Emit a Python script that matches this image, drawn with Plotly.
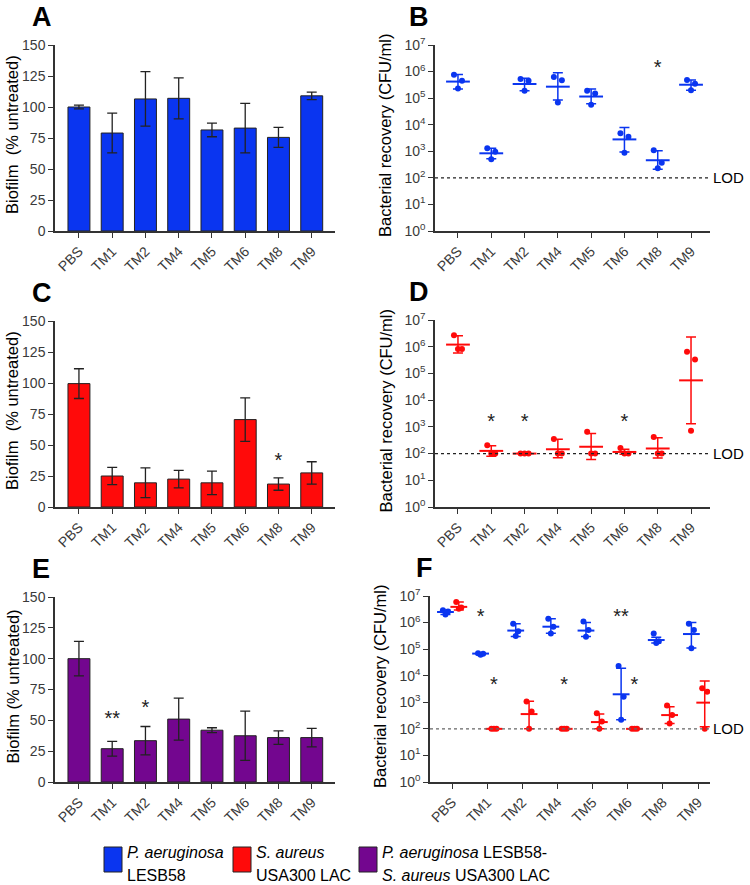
import plotly.graph_objects as go

W, H = 750, 885

groups = ['PBS', 'TM1', 'TM2', 'TM4', 'TM5', 'TM6', 'TM8', 'TM9']

# biofilm bars (% untreated): mean and SD
a_mean = [100, 79, 106.5, 107, 81.5, 83, 75.5, 109]
a_sd = [1.5, 16, 22, 16.5, 5.5, 20, 8, 3]
c_mean = [99.5, 25, 19.5, 22.5, 19.5, 70.5, 18.5, 27.5]
c_sd = [12, 7, 12, 7, 9.5, 17.5, 5, 9]
e_mean = [100, 27, 33.5, 51, 42, 37.5, 36, 36]
e_sd = [14, 6, 11.5, 17, 2, 20, 5.5, 7.5]

# bacterial recovery (CFU/ml): replicate points, geometric mean, low/high of error bar
b_pts = [[7.6e5, 4.5e5, 2.3e5], [1.3e3, 9.7e2, 5.0e2], [5.3e5, 4.5e5, 1.9e5], [6.3e5, 4.7e5, 6.9e4],
         [1.9e5, 1.5e5, 5.7e4], [4.8e3, 3.5e3, 8.9e2], [1.1e3, 3.7e2, 2.3e2], [4.8e5, 3.5e5, 2.0e5]]
b_mean = [4.2e5, 8.4e2, 3.4e5, 2.7e5, 1.15e5, 2.8e3, 4.6e2, 3.2e5]
b_lo = [2.2e5, 5.2e2, 1.9e5, 8.5e4, 6.2e4, 9.5e2, 2.1e2, 2.0e5]
b_hi = [7.8e5, 1.3e3, 5.6e5, 9.1e5, 2.2e5, 7.8e3, 1.05e3, 4.8e5]

d_pts = [[2.7e6, 8.2e5, 8.2e5], [2.05e2, 100, 100], [100, 100, 100], [3.5e2, 100, 100],
         [6.5e2, 100, 100], [1.6e2, 100, 100], [4.2e2, 100, 100], [6.5e5, 3.3e5, 7.2e2]]
d_mean = [1.2e6, 1.26e2, 100, 1.45e2, 1.8e2, 1.15e2, 1.55e2, 5.5e4]
d_lo = [5.8e5, 80, 100, 70, 60, 95, 68, 1.3e3]
d_hi = [2.6e6, 1.95e2, 100, 3.4e2, 5.6e2, 1.45e2, 3.9e2, 2.3e6]

f_pa_pts = [[2.9e6, 2.6e6, 2.0e6], [7.0e4, 6.7e4, 6.2e4], [9.1e5, 4.7e5, 3.1e5], [1.4e6, 6.9e5, 3.9e5],
            [1.1e6, 5.2e5, 2.9e5], [2.3e4, 1.6e3, 2.2e2], [3.9e5, 2.0e5, 1.7e5], [9.1e5, 5.2e5, 1.07e5]]
f_pa_mean = [2.5e6, 6.8e4, 5.0e5, 7.0e5, 5.0e5, 2.0e3, 2.2e5, 3.7e5]
f_pa_lo = [2.0e6, 6.3e4, 3.0e5, 4.0e5, 3.0e5, 2.2e2, 1.7e5, 1.1e5]
f_pa_hi = [3.0e6, 7.2e4, 9.0e5, 1.4e6, 1.0e6, 1.9e4, 2.8e5, 1.0e6]

f_sa_pts = [[6.0e6, 3.7e6, 3.3e6], [100, 100, 100], [1.07e3, 4.5e2, 100], [100, 100, 100],
            [3.9e2, 1.9e2, 100], [100, 100, 100], [7.5e2, 3.3e2, 1.6e2], [3.4e3, 2.5e3, 100]]
f_sa_mean = [3.9e6, 100, 3.6e2, 100, 1.8e2, 100, 3.3e2, 9.7e2]
f_sa_lo = [3.0e6, 100, 100, 100, 100, 100, 1.6e2, 1.2e2]
f_sa_hi = [6.0e6, 100, 1.1e3, 100, 3.6e2, 100, 6.8e2, 6.3e3]

LOD = 100

# significance marks: (group index, offset, value, text)
c_stars = [(6, 0, 36, '*')]
e_stars = [(1, 0, 50, '**'), (2, 0, 59, '*')]
b_stars = [(6, 0, 1.3e6, '*')]
d_stars = [(1, 0, 1.4e3, '*'), (2, 0, 1.4e3, '*'), (5, 0, 1.4e3, '*')]
f_stars = [(1, -0.19, 1.5e6, '*'), (5, -0.19, 1.5e6, '**'),
           (1, 0.19, 4.0e3, '*'), (3, 0.19, 4.0e3, '*'), (5, 0.19, 4.0e3, '*')]

BLUE = '#0a35f0'
RED = '#ff0a0a'
PURPLE = '#73068f'
AXC = '#333333'
FONT = 'Liberation Sans, Arial, sans-serif'

jitter = [-0.12, 0.12, 0.0]


def px(x):
    return x / W


def py(y):
    return 1 - y / H


fig = go.Figure()


def bars(n, mean, sd, color):
    fig.add_trace(go.Bar(
        x=list(range(len(groups))), y=mean, width=0.66,
        marker=dict(color=color, line=dict(color='#222', width=1)),
        error_y=dict(type='data', array=sd, color='#222', thickness=1.3, width=5),
        xaxis='x%d' % n, yaxis='y%d' % n, showlegend=False))


def dots(n, pts, mean, lo, hi, color, offset=0.0, msize=17):
    xs, ys = [], []
    for i, vals in enumerate(pts):
        for j, v in enumerate(vals):
            xs.append(i + offset + jitter[j] * (0.6 if offset else 1))
            ys.append(v)
    fig.add_trace(go.Scatter(x=xs, y=ys, mode='markers',
                             marker=dict(color=color, size=6),
                             xaxis='x%d' % n, yaxis='y%d' % n, showlegend=False))
    fig.add_trace(go.Scatter(
        x=[i + offset for i in range(len(mean))], y=mean, mode='markers',
        marker=dict(symbol='line-ew', size=msize, line=dict(color=color, width=2)),
        error_y=dict(type='data', symmetric=False,
                     array=[h - m for h, m in zip(hi, mean)],
                     arrayminus=[m - l for m, l in zip(mean, lo)],
                     color=color, thickness=1.5, width=5),
        xaxis='x%d' % n, yaxis='y%d' % n, showlegend=False))


def stars(n, marks):
    fig.add_trace(go.Scatter(
        x=[g + o for g, o, v, t in marks], y=[v for g, o, v, t in marks],
        text=[t for g, o, v, t in marks], mode='text',
        textfont=dict(size=20, color='#222', family=FONT),
        xaxis='x%d' % n, yaxis='y%d' % n, showlegend=False, cliponaxis=False))


bars(1, a_mean, a_sd, BLUE)
dots(2, b_pts, b_mean, b_lo, b_hi, BLUE)
stars(2, b_stars)
bars(3, c_mean, c_sd, RED)
stars(3, c_stars)
dots(4, d_pts, d_mean, d_lo, d_hi, RED)
stars(4, d_stars)
bars(5, e_mean, e_sd, PURPLE)
stars(5, e_stars)
dots(6, f_pa_pts, f_pa_mean, f_pa_lo, f_pa_hi, BLUE, offset=-0.19, msize=12)
dots(6, f_sa_pts, f_sa_mean, f_sa_lo, f_sa_hi, RED, offset=0.19, msize=12)
stars(6, f_stars)

# panel geometry in pixels: x0, x1, ytop, ybottom, x range
panels = {
    1: (55, 335, 45, 231, [-0.72, 7.7]),
    2: (435, 710, 45, 231, [-0.69, 7.57]),
    3: (55, 335, 321, 507, [-0.72, 7.7]),
    4: (435, 710, 320, 507, [-0.69, 7.57]),
    5: (55, 335, 597, 782, [-0.72, 7.7]),
    6: (430, 710, 596, 782, [-0.63, 7.34]),
}

tickfont = dict(family=FONT, size=14, color='#3a3a3a')
layout = {}
for n, (x0, x1, yt, yb, xr) in panels.items():
    sfx = '' if n == 1 else str(n)
    layout['xaxis' + sfx] = dict(
        domain=[px(x0), px(x1)], range=xr, anchor='y' + sfx, automargin=False,
        tickvals=list(range(len(groups))), ticktext=groups, tickangle=-45,
        ticks='outside', ticklen=5, tickwidth=1.3, tickcolor=AXC,
        showline=True, linecolor=AXC, linewidth=1.5, showgrid=False, zeroline=False,
        tickfont=tickfont)
    ax = dict(domain=[py(yb), py(yt)], anchor='x' + sfx, automargin=False,
              ticks='outside', ticklen=5, tickwidth=1.3, tickcolor=AXC,
              showline=True, linecolor=AXC, linewidth=1.5, showgrid=False, zeroline=False,
              tickfont=tickfont)
    if n % 2 == 1:
        ax.update(range=[0, 150], tickvals=[0, 25, 50, 75, 100, 125, 150])
    else:
        ax.update(type='log', range=[0, 7],
                  tickvals=[10 ** k for k in range(8)],
                  ticktext=['10<sup>%d</sup>' % k for k in range(8)])
    layout['yaxis' + sfx] = ax

fig.update_layout(**layout)

ann = []
shapes = []
letters = {1: ('A', 30), 2: ('B', 407), 3: ('C', 30), 4: ('D', 407), 5: ('E', 30), 6: ('F', 414)}
for n, (x0, x1, yt, yb, xr) in panels.items():
    sfx = '' if n == 1 else str(n)
    let, lx = letters[n]
    ann.append(dict(text='<b>%s</b>' % let, x=px(lx), y=py(yt - 28), xref='paper', yref='paper',
                    xanchor='left', yanchor='middle', showarrow=False,
                    font=dict(family=FONT, size=27, color='black')))
    if n % 2 == 1:
        title = 'Biofilm  (% untreated)' if n < 5 else 'Biofilm (% untreated)'
        tx = 12
    else:
        title = 'Bacterial recovery (CFU/ml)'
        tx = x0 - 50
    ann.append(dict(text=title, x=px(tx), y=py((yt + yb) / 2 - 3), xref='paper', yref='paper',
                    textangle=-90, xanchor='center', yanchor='middle', showarrow=False,
                    font=dict(family=FONT, size=16.5, color='black')))
    if n % 2 == 0:
        shapes.append(dict(type='line', xref='x%s domain' % sfx, yref='y' + sfx,
                           x0=0, x1=1, y0=LOD, y1=LOD,
                           line=dict(color='#222' if n < 6 else '#666', width=1.3, dash='dot')))
        ann.append(dict(text='LOD', x=px(746), y=2, xref='paper', yref='y' + sfx,
                        xanchor='right', yanchor='middle', showarrow=False,
                        font=dict(family=FONT, size=15, color='black')))

# legend at bottom
legend_items = [
    (104, BLUE, '<i>P. aeruginosa</i>', 'LESB58'),
    (233, RED, '<i>S. aureus</i>', 'USA300 LAC'),
    (359, PURPLE, '<i>P. aeruginosa</i> LESB58-', '<i>S. aureus</i> USA300 LAC'),
]
for lx, col, l1, l2 in legend_items:
    shapes.append(dict(type='rect', xref='paper', yref='paper',
                       x0=px(lx), x1=px(lx + 18), y0=py(872), y1=py(847),
                       fillcolor=col, line=dict(color='#222', width=1)))
    for txt, yy in ((l1, 852), (l2, 875)):
        ann.append(dict(text=txt, x=px(lx + 21), y=py(yy), xref='paper', yref='paper',
                        xanchor='left', yanchor='middle', showarrow=False,
                        font=dict(family=FONT, size=16, color='black')))

fig.update_layout(
    template='none',
    width=W, height=H, margin=dict(l=0, r=0, t=0, b=0),
    paper_bgcolor='white', plot_bgcolor='white',
    annotations=ann, shapes=shapes, bargap=0.3,
    font=dict(family=FONT),
)

# drop the browser's default body margin so the figure sits at the page corner
fig.write_html('out.html', config={'displayModeBar': False},
               post_script="document.body.style.margin='0';")
